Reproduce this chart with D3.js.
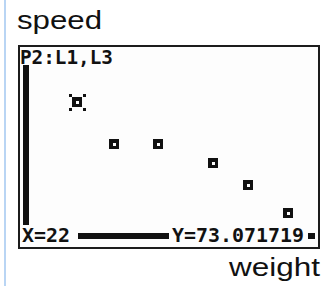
<!DOCTYPE html>
<html>
<head>
<meta charset="utf-8">
<script src="https://cdn.jsdelivr.net/npm/d3@7"></script>
<style>
  html, body { margin: 0; padding: 0; background: #ffffff; }
  svg { display: block; }
</style>
</head>
<body>
<script>
// ---- data ----
const weight = [22, 37.9, 56.5, 80.4, 95.2, 112.6];
const speed  = [73.071719, 49.9, 49.9, 39.6, 27.7, 12.7];
const xWindow = [-2.58, 124.9];
const yWindow = [-5.44, 102.8];
const plotLabel = "P2:L1,L3";
const traceX = "X=22";
const traceY = "Y=73.071719";
const yTitle = "speed";
const xTitle = "weight";
const tracedIndex = 0;

const W = 334, H = 286;
const svg = d3.select("body").append("svg").attr("width", W).attr("height", H)
  .attr("shape-rendering", "crispEdges");

// light blue margin line
svg.append("rect").attr("x", 4).attr("y", 0).attr("width", 2).attr("height", H).attr("fill", "#b9d5f4");

// titles
svg.append("text").attr("x", 17).attr("y", 29).text(yTitle)
  .attr("font-family", "Liberation Sans, Arial, sans-serif").attr("font-size", 26)
  .attr("textLength", 85).attr("lengthAdjust", "spacingAndGlyphs").attr("fill", "#111");
svg.append("text").attr("x", 229).attr("y", 276).text(xTitle)
  .attr("font-family", "Liberation Sans, Arial, sans-serif").attr("font-size", 25)
  .attr("textLength", 91).attr("lengthAdjust", "spacingAndGlyphs").attr("fill", "#111");

// screen
const sx0 = 20, sx1 = 317, sy0 = 47, sy1 = 246;
svg.append("rect").attr("x", 19).attr("y", 45.5).attr("width", 300).attr("height", 202)
  .attr("fill", "#fdfdfd").attr("stroke", "#1c1c1c").attr("stroke-width", 2);

const x = d3.scaleLinear().domain(xWindow).range([sx0, sx1]);
const y = d3.scaleLinear().domain(yWindow).range([sy1, sy0]);

const g = svg.append("g");
// axes (thick calculator pixels)
g.append("rect").attr("x", x(0) - 3).attr("y", sy0).attr("width", 6).attr("height", sy1 - sy0).attr("fill", "#111");
g.append("rect").attr("x", x(0)).attr("y", y(0) - 3).attr("width", x(xWindow[1]) - 2 - x(0)).attr("height", 6).attr("fill", "#111");

// points
const pts = weight.map((w, i) => ({ w, s: speed[i], i }));
const mk = g.selectAll("g.pt").data(pts).join("g").attr("class", "pt")
  .attr("transform", d => `translate(${Math.round(x(d.w))},${Math.round(y(d.s))})`);
mk.append("rect").attr("x", -5).attr("y", -5).attr("width", 10).attr("height", 10).attr("fill", "#111");
mk.append("rect").attr("x", -1.5).attr("y", -1.5).attr("width", 3).attr("height", 3).attr("fill", "#fdfdfd");
// trace cursor corners
const tr = mk.filter(d => d.i === tracedIndex);
[[-1, -1], [1, -1], [-1, 1], [1, 1]].forEach(([dx, dy]) => {
  tr.append("rect").attr("x", dx * 7 - 1.5).attr("y", dy * 7 - 1.5)
    .attr("width", 3).attr("height", 3).attr("fill", "#111");
});

// text rows with background
const mono = "DejaVu Sans Mono, Liberation Mono, monospace";
svg.append("rect").attr("x", 20).attr("y", 47).attr("width", 96).attr("height", 18).attr("fill", "#fdfdfd");
svg.append("text").attr("x", 20).attr("y", 64).text(plotLabel)
  .attr("font-family", mono).attr("font-weight", "bold").attr("font-size", 19)
  .attr("textLength", 93).attr("lengthAdjust", "spacingAndGlyphs").attr("fill", "#111");

svg.append("rect").attr("x", 20).attr("y", 225).attr("width", 58).attr("height", 21).attr("fill", "#fdfdfd");
svg.append("text").attr("x", 22).attr("y", 242).text(traceX)
  .attr("font-family", mono).attr("font-weight", "bold").attr("font-size", 19)
  .attr("textLength", 48).attr("lengthAdjust", "spacingAndGlyphs").attr("fill", "#111");

svg.append("rect").attr("x", 169).attr("y", 225).attr("width", 139).attr("height", 21).attr("fill", "#fdfdfd");
svg.append("text").attr("x", 172).attr("y", 242).text(traceY)
  .attr("font-family", mono).attr("font-weight", "bold").attr("font-size", 19)
  .attr("textLength", 132).attr("lengthAdjust", "spacingAndGlyphs").attr("fill", "#111");
</script>
</body>
</html>
